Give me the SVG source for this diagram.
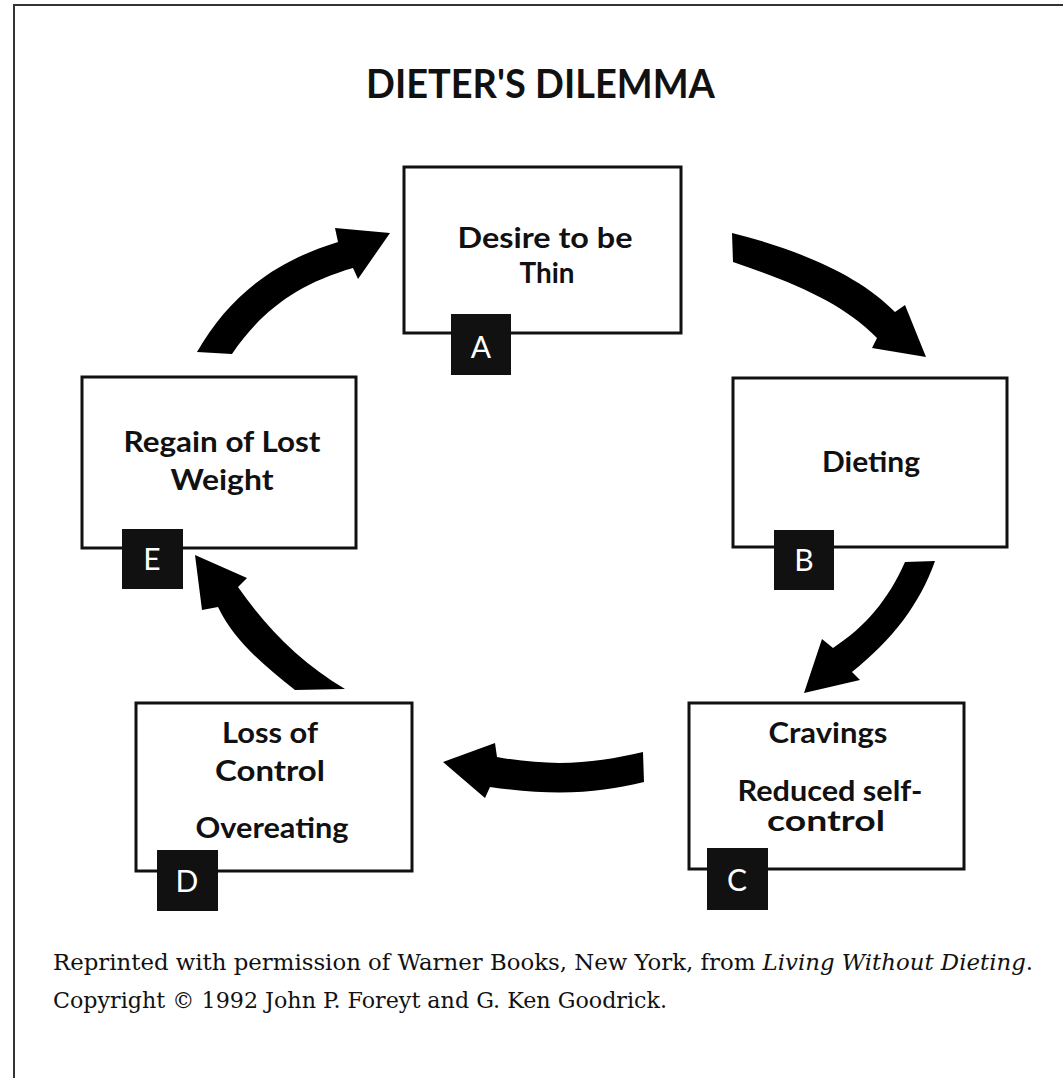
<svg xmlns="http://www.w3.org/2000/svg" width="1063" height="1078" viewBox="0 0 1063 1078">
<style>
.frame{stroke:#333;stroke-width:2;fill:none}
.box{fill:#fff;stroke:#111;stroke-width:3}
.tag{fill:#111}
.lbl{font-family:Lato,"Open Sans","DejaVu Sans",sans-serif;font-weight:bold;font-size:28px;fill:#111;text-anchor:middle}
.tagt{font-family:Lato,"Open Sans","DejaVu Sans",sans-serif;font-weight:normal;font-size:30px;fill:#fff;text-anchor:middle}
.title{font-family:Lato,"Open Sans","DejaVu Sans",sans-serif;font-weight:bold;font-size:40px;fill:#111}
.cap{font-family:"DejaVu Serif","Liberation Serif",serif;font-size:23px;fill:#111}
.arrow{fill:#000}
</style>
<rect width="1063" height="1078" fill="#fff"/>
<path class="frame" d="M14,1078 L14,5 L1063,5"/>
<text class="title" x="366" y="98" textLength="349" lengthAdjust="spacingAndGlyphs">DIETER'S DILEMMA</text>

<g id="connectors">
<path class="arrow" d="M197,352 C228,298 272,262 338,242 L335,228 L390,233 L358,279 L353,268 C298,284 262,310 232,354 Z"/>
<path class="arrow" d="M732,233 C800,250 860,276 895,312 L905,305 L926,357 L872,348 L877,338 C842,302 792,282 733,262 Z"/>
<path class="arrow" d="M905,562 C888,600 866,626 833,648 L822,639 L804,693 L860,680 L852,672 C892,640 920,604 935,561 Z"/>
<path class="arrow" d="M643,752 C600,762 558,768 497,757 L495,743 L443,762 L485,798 L490,787 C560,797 602,792 644,782 Z"/>
<path class="arrow" d="M295,690 C262,664 234,640 218,607 L202,610 L195,555 L247,578 L238,587 C268,630 300,662 345,689 Z"/>
</g>

<g id="node-A">
<rect class="box" x="404" y="167" width="277" height="166"/>
<text class="lbl" x="545" y="248" textLength="175" lengthAdjust="spacingAndGlyphs">Desire to be</text>
<text class="lbl" x="547" y="283" textLength="55" lengthAdjust="spacingAndGlyphs">Thin</text>
<rect class="tag" x="451" y="314" width="60" height="61"/>
<text class="tagt" x="481" y="358">A</text>
</g>

<g id="node-B">
<rect class="box" x="733" y="378" width="274" height="169"/>
<text class="lbl" x="871" y="472" textLength="98" lengthAdjust="spacingAndGlyphs">Dieting</text>
<rect class="tag" x="774" y="530" width="60" height="60"/>
<text class="tagt" x="804" y="571">B</text>
</g>

<g id="node-C">
<rect class="box" x="689" y="703" width="275" height="166"/>
<text class="lbl" x="828" y="743" textLength="119" lengthAdjust="spacingAndGlyphs">Cravings</text>
<text class="lbl" x="830" y="801" textLength="185" lengthAdjust="spacingAndGlyphs">Reduced self-</text>
<text class="lbl" x="826" y="831" font-size="26" textLength="118" lengthAdjust="spacingAndGlyphs">control</text>
<rect class="tag" x="707" y="848" width="61" height="62"/>
<text class="tagt" x="737" y="891">C</text>
</g>

<g id="node-D">
<rect class="box" x="136" y="703" width="276" height="168"/>
<text class="lbl" x="270" y="743" textLength="96" lengthAdjust="spacingAndGlyphs">Loss of</text>
<text class="lbl" x="270" y="781" textLength="110" lengthAdjust="spacingAndGlyphs">Control</text>
<text class="lbl" x="272" y="838" textLength="153" lengthAdjust="spacingAndGlyphs">Overeating</text>
<rect class="tag" x="157" y="850" width="61" height="61"/>
<text class="tagt" x="187" y="892">D</text>
</g>

<g id="node-E">
<rect class="box" x="82" y="377" width="274" height="171"/>
<text class="lbl" x="222" y="452" textLength="197" lengthAdjust="spacingAndGlyphs">Regain of Lost</text>
<text class="lbl" x="222" y="490" textLength="103" lengthAdjust="spacingAndGlyphs">Weight</text>
<rect class="tag" x="122" y="529" width="61" height="60"/>
<text class="tagt" x="152" y="570">E</text>
</g>

<text class="cap" x="53" y="970" textLength="980" lengthAdjust="spacingAndGlyphs">Reprinted with permission of Warner Books, New York, from <tspan font-style="italic">Living Without Dieting</tspan>.</text>
<text class="cap" x="53" y="1008" textLength="614" lengthAdjust="spacingAndGlyphs">Copyright © 1992 John P. Foreyt and G. Ken Goodrick.</text>
</svg>
